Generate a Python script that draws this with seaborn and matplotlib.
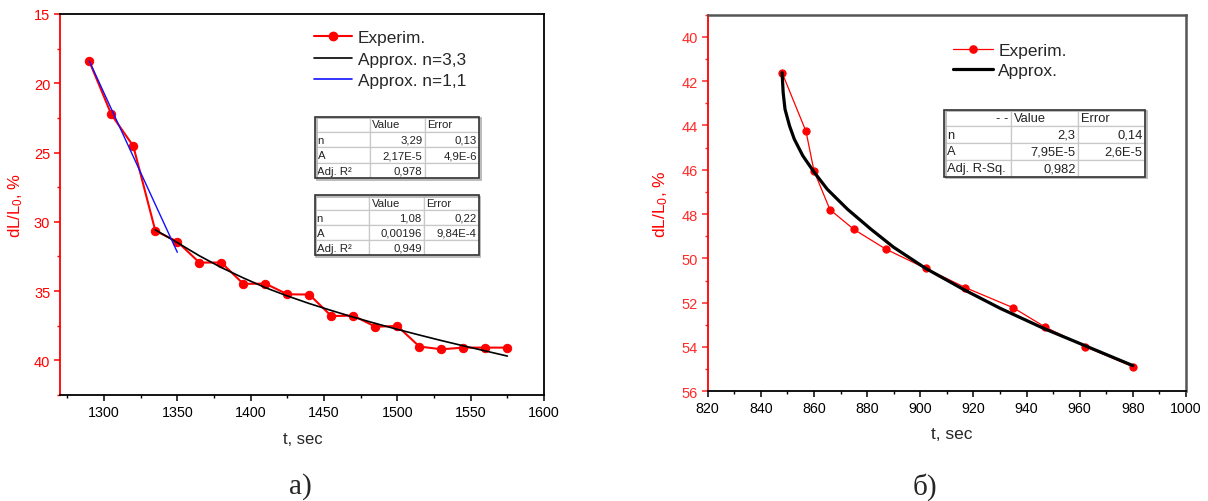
import numpy as np
import pandas as pd
import matplotlib
matplotlib.use("Agg")
import matplotlib.pyplot as plt
from matplotlib.table import Table
from matplotlib.patches import Rectangle
from matplotlib.lines import Line2D
from matplotlib.ticker import MultipleLocator
import seaborn as sns

# ---------------- data: panel a) ----------------
t_a = [1290, 1305, 1320, 1335, 1350, 1365, 1380, 1395, 1410, 1425,
       1440, 1455, 1470, 1485, 1500, 1515, 1530, 1545, 1560, 1575]
dl_a = [18.42, 22.25, 24.54, 30.65, 31.43, 32.94, 32.94, 34.48, 34.46, 35.23,
        35.25, 36.8, 36.77, 37.57, 37.52, 39.0, 39.2, 39.08, 39.08, 39.08]
fit33_t = [1335, 1350, 1365, 1380, 1395, 1410, 1425, 1440, 1455, 1470,
           1485, 1500, 1515, 1530, 1545, 1560, 1575]
fit33_y = [30.58, 31.5, 32.45, 33.3, 34.05, 34.75, 35.35, 35.9, 36.4, 36.88,
           37.33, 37.76, 38.17, 38.57, 38.95, 39.32, 39.69]
fit11_t = [1290, 1350]
fit11_y = [18.4, 32.2]
table_a1 = [["", "Value", "Error"],
            ["n", "3,29", "0,13"],
            ["A", "2,17E-5", "4,9E-6"],
            ["Adj. R²", "0,978", ""]]
table_a2 = [["", "Value", "Error"],
            ["n", "1,08", "0,22"],
            ["A", "0,00196", "9,84E-4"],
            ["Adj. R²", "0,949", ""]]

# ---------------- data: panel б) ----------------
t_b = [848, 857, 860, 866, 875, 887, 902, 917, 935, 947, 962, 980]
dl_b = [41.62, 44.27, 46.05, 47.8, 48.69, 49.58, 50.45, 51.32, 52.23, 53.1, 53.98, 54.89]
fit_b_t = [848, 848.4, 849.1, 850.8, 852.6, 855.8, 860, 865, 872.6, 881.4,
           890, 902, 916.4, 930, 947, 962, 980]
fit_b_y = [41.62, 42.52, 43.27, 44.02, 44.62, 45.37, 46.1, 46.88, 47.78, 48.68,
           49.5, 50.45, 51.41, 52.25, 53.19, 53.94, 54.84]
table_b = [["- -", "Value", "Error"],
           ["n", "2,3", "0,14"],
           ["A", "7,95E-5", "2,6E-5"],
           ["Adj. R-Sq.", "0,982", ""]]

sns.set_style("ticks")
plt.rcParams["font.family"] = ["Liberation Sans", "DejaVu Sans"]
plt.rcParams["mathtext.default"] = "regular"

RED = "#ff0000"
W, H = 1208, 502
fig = plt.figure(figsize=(W / 100, H / 100), dpi=100)
ax1 = fig.add_axes([60 / W, 1 - 396 / H, 484 / W, 381 / H])
ax2 = fig.add_axes([707.7 / W, 1 - 392.3 / H, 478.3 / W, 376.6 / H])


def draw_table(ax, rows, bbox, fs, label_right_header=False):
    tb = Table(ax, bbox=bbox)
    nr, nc = len(rows), len(rows[0])
    for r in range(nr):
        for c in range(nc):
            if c == 0:
                loc = "right" if (r == 0 and label_right_header) else "left"
            elif r == 0:
                loc = "left"
            else:
                loc = "right"
            cell = tb.add_cell(r, c, width=1 / nc, height=1 / nr,
                               text=rows[r][c], loc=loc, edgecolor="#c8c8c8",
                               facecolor="white")
            cell.PAD = 0.04
            cell.set_linewidth(0.9)
            cell.get_text().set_fontsize(fs)
            cell.get_text().set_color("#222222")
    tb.auto_set_font_size(False)
    ax.add_table(tb)
    x0, y0, w, h = bbox
    ax.add_patch(Rectangle((x0 + 0.003, y0 - 0.004), w, h, transform=ax.transAxes,
                           fill=False, edgecolor="#b0b0b0", lw=1.2, zorder=9,
                           clip_on=False))
    ax.add_patch(Rectangle((x0, y0), w, h, transform=ax.transAxes,
                           fill=False, edgecolor="#333333", lw=1.2, zorder=10,
                           clip_on=False))


# ---------------- panel a) ----------------
sns.lineplot(x=t_a, y=dl_a, ax=ax1, color=RED, lw=1.5, marker="o",
             markersize=6, markeredgecolor=RED, sort=False, zorder=3)
sns.lineplot(x=fit33_t, y=fit33_y, ax=ax1, color="black", lw=1.2, sort=False, zorder=4)
sns.lineplot(x=fit11_t, y=fit11_y, ax=ax1, color="#1010ff", lw=1.0, sort=False, zorder=5)
ax1.set_xlim(1270, 1600)
ax1.set_ylim(42.5, 15)
ax1.xaxis.set_major_locator(MultipleLocator(50))
ax1.xaxis.set_minor_locator(MultipleLocator(25))
ax1.yaxis.set_major_locator(MultipleLocator(5))
ax1.yaxis.set_minor_locator(MultipleLocator(2.5))
ax1.set_xticks([1300, 1350, 1400, 1450, 1500, 1550, 1600])
ax1.set_yticks([15, 20, 25, 30, 35, 40])
ax1.set_xlabel("t, sec", fontsize=12)
ax1.set_ylabel("dL/L$_0$, %", fontsize=12, color=RED)
ax1.xaxis.set_label_coords(0.502, -0.094)
ax1.yaxis.set_label_coords(-0.072, 0.5)

leg_a = [Line2D([], [], color=RED, lw=1.5, marker="o", markersize=6),
         Line2D([], [], color="black", lw=1.2),
         Line2D([], [], color="#1010ff", lw=1.2)]
ax1.legend(leg_a, ["Experim.", "Approx. n=3,3", "Approx. n=1,1"],
           loc="upper left", bbox_to_anchor=(0.524, 0.958), frameon=False,
           fontsize=12.4, handlelength=2.2, handletextpad=0.35,
           labelspacing=0.38, borderpad=0, borderaxespad=0)
draw_table(ax1, table_a1, [0.5275, 0.569, 0.339, 0.1617], 8.2)
draw_table(ax1, table_a2, [0.526, 0.3675, 0.339, 0.157], 8.2)

# ---------------- panel б) ----------------
sns.lineplot(x=t_b, y=dl_b, ax=ax2, color=RED, lw=0.9, marker="o",
             markersize=5.2, markeredgecolor=RED, sort=False, zorder=3)
sns.lineplot(x=fit_b_t, y=fit_b_y, ax=ax2, color="black", lw=2.3, sort=False, zorder=4)
ax2.set_xlim(820, 1000)
ax2.set_ylim(56, 39)
ax2.xaxis.set_major_locator(MultipleLocator(20))
ax2.xaxis.set_minor_locator(MultipleLocator(10))
ax2.yaxis.set_major_locator(MultipleLocator(2))
ax2.yaxis.set_minor_locator(MultipleLocator(1))
ax2.set_xlabel("t, sec", fontsize=12.5)
ax2.set_ylabel("dL/L$_0$, %", fontsize=12.5, color=RED)
ax2.xaxis.set_label_coords(0.511, -0.092)
ax2.yaxis.set_label_coords(-0.079, 0.5)

leg_b = [Line2D([], [], color=RED, lw=0.9, marker="o", markersize=5.2),
         Line2D([], [], color="black", lw=2.3)]
ax2.legend(leg_b, ["Experim.", "Approx."], loc="upper left",
           bbox_to_anchor=(0.513, 0.925), frameon=False, fontsize=12.5,
           handlelength=2.3, handletextpad=0.3, labelspacing=0.25,
           borderpad=0, borderaxespad=0)
draw_table(ax2, table_b, [0.495, 0.570, 0.42, 0.178], 9.3, label_right_header=True)

# ---------------- styling ----------------
for ax, ycol, frame_col, frame_lw in [(ax1, RED, "black", 1.3), (ax2, "#ff2a2a", "#555555", 1.8)]:
    ax.grid(False)
    for s in ["top", "right"]:
        ax.spines[s].set_color(frame_col)
        ax.spines[s].set_linewidth(frame_lw)
    ax.spines["bottom"].set_color("black")
    ax.spines["bottom"].set_linewidth(1.3)
    ax.spines["left"].set_color(RED)
    ax.spines["left"].set_linewidth(1.3)
    ax.tick_params(axis="x", which="major", direction="out", length=4, width=1.1,
                   colors="black", labelsize=10.3, pad=3, top=False)
    ax.tick_params(axis="x", which="minor", direction="out", length=2.5, width=1.0,
                   colors="black", top=False)
    ax.tick_params(axis="y", which="major", direction="out", length=4, width=1.1,
                   colors=ycol, labelsize=10.5, pad=3, right=False)
    ax.tick_params(axis="y", which="minor", direction="out", length=2.5, width=1.0,
                   colors=ycol, right=False)
    ax.set_facecolor("white")

fig.text(300 / W, 1 - 487 / H, "а)", fontsize=21, family="Liberation Serif",
         ha="center", va="center")
fig.text(925 / W, 1 - 487 / H, "б)", fontsize=21, family="Liberation Serif",
         ha="center", va="center")

fig.savefig("out.png", dpi=100, facecolor="white")
